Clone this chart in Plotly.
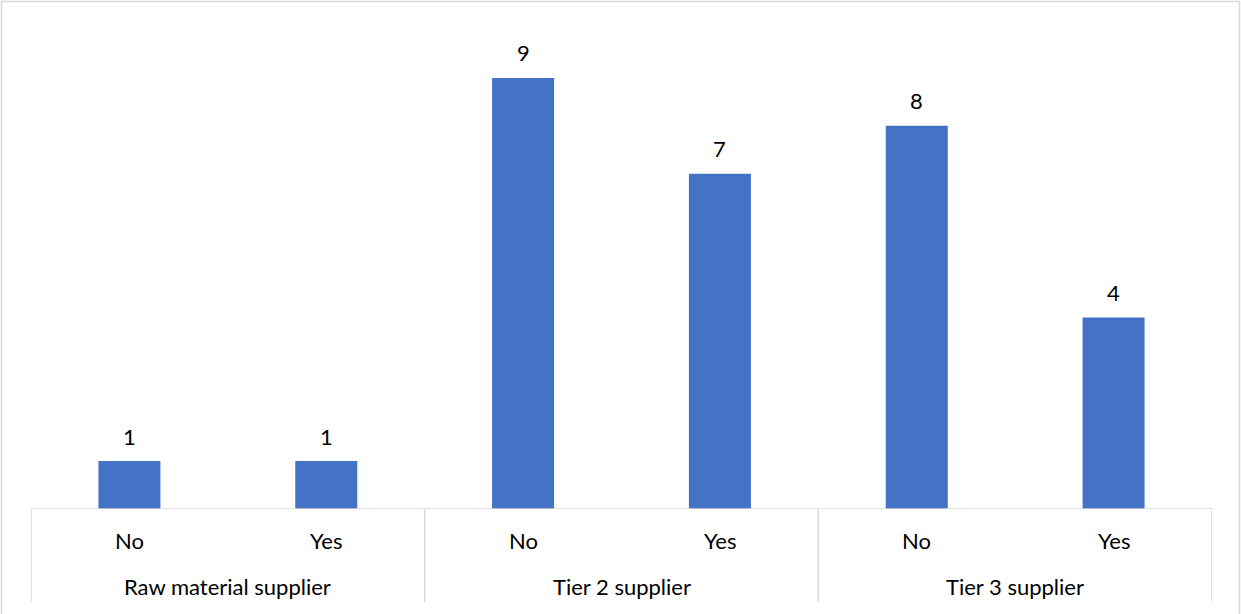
import plotly.graph_objects as go

group_names = ["Raw material supplier", "Tier 2 supplier", "Tier 3 supplier"]
answers = ["No", "Yes", "No", "Yes", "No", "Yes"]
values = [1, 1, 9, 7, 8, 4]

W, H = 1241, 614
ml, mr, mt, mb = 31, 29, 30, 105
ph = H - mt - mb
pw = W - ml - mr
FONT = "Lato"
FS = 22
GRID = "#d9d9d9"

xs = list(range(len(values)))

fig = go.Figure(go.Bar(
    x=xs, y=values,
    marker=dict(color="#4472C4", line=dict(width=0)),
    width=0.315,
    cliponaxis=False,
    hoverinfo="skip",
))

annotations = []
# value labels
for x, v in zip(xs, values):
    annotations.append(dict(x=x, y=v, xref="x", yref="y", text=str(v), showarrow=False,
                            yanchor="middle", yshift=25,
                            font=dict(family=FONT, size=FS, color="#000000")))
# category labels
for x, a in zip(xs, answers):
    annotations.append(dict(x=x, y=-(540 - 509) / ph, xref="x", yref="paper", text=a,
                            showarrow=False, yanchor="middle",
                            font=dict(family=FONT, size=FS, color="#000000")))
# group labels
for i, g in enumerate(group_names):
    annotations.append(dict(x=2 * i + 0.5, y=-(586 - 509) / ph, xref="x", yref="paper", text=g,
                            showarrow=False, yanchor="middle",
                            font=dict(family=FONT, size=FS, color="#000000")))

shapes = []
for b in [-0.5, 1.5, 3.5, 5.5]:
    shapes.append(dict(type="line", xref="x", yref="paper", x0=b, x1=b,
                       y0=0, y1=-(602 - 509) / ph, line=dict(color=GRID, width=1.5)))
shapes.append(dict(type="line", xref="x", yref="y", x0=-0.5, x1=5.5, y0=0, y1=0,
                   line=dict(color=GRID, width=1.5)))
shapes.append(dict(type="rect", xref="paper", yref="paper",
                   x0=-(ml - 1.5) / pw, x1=1 + (mr - 1.5) / pw,
                   y0=-(mb + 40) / ph, y1=1 + (mt - 1.5) / ph,
                   line=dict(color=GRID, width=1.5), layer="below"))

fig.update_layout(
    width=W, height=H,
    margin=dict(l=ml, r=mr, t=mt, b=mb),
    paper_bgcolor="white", plot_bgcolor="white",
    showlegend=False,
    font=dict(family=FONT, size=FS, color="#000000"),
    xaxis=dict(range=[-0.5, 5.5], visible=False, showgrid=False, zeroline=False),
    yaxis=dict(range=[0, 10], visible=False, showgrid=False, zeroline=False),
    annotations=annotations,
    shapes=shapes,
)

fig.write_html("out.html")
